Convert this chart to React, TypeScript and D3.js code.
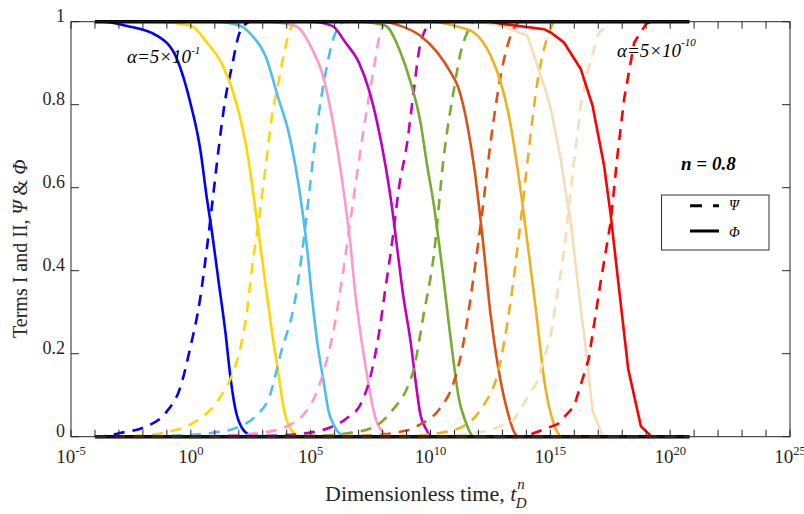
import React from "react";
import * as d3 from "d3";

// ---- data (x values are log10 of t_D^n, y values are Φ or Ψ) ----
const alphaValues = [5e-1, 5e-2, 5e-3, 5e-4, 5e-5, 5e-6, 5e-7, 5e-8, 5e-9, 5e-10];
const seriesColors = ["#0000ff", "#ffd700", "#4dbeee", "#ff99cc", "#bf00bf", "#77ac30", "#d95319", "#edb120", "#f5deb3", "#ff0000"];
const linearSeries = [false, false, false, false, false, false, false, false, true, true];

const phiBlue: [number, number][] = [[-4, 1], [-3.7, 1], [-2.7, 0.99], [-1.4, 0.966], [-0.58, 0.91], [0, 0.8], [0.39, 0.694], [0.67, 0.574], [0.88, 0.494], [1.16, 0.373], [1.44, 0.253], [1.64, 0.149], [1.85, 0.069], [2.13, 0.021], [2.48, 0.003], [2.7, 0], [20.8, 0]];
const psiBlue: [number, number][] = [[-4, 0], [-3.5, 0.002], [-2.95, 0.009], [-1.98, 0.022], [-1.0, 0.061], [-0.45, 0.117], [-0.03, 0.213], [0.39, 0.333], [0.67, 0.454], [0.95, 0.59], [1.16, 0.694], [1.44, 0.814], [1.72, 0.894], [1.99, 0.966], [2.27, 0.994], [2.5, 1], [20.8, 1]];

const phiGold: [number, number][] = [[-4, 1], [-1.5, 1], [0, 0.99], [0.67, 0.95], [1.37, 0.89], [1.92, 0.8], [2.34, 0.69], [2.55, 0.61], [2.83, 0.49], [3.11, 0.37], [3.39, 0.25], [3.66, 0.15], [3.87, 0.07], [4.15, 0.02], [4.5, 0.002], [4.7, 0], [20.8, 0]];
const psiGold: [number, number][] = [[-4, 0], [-2, 0.003], [-1.0, 0.011], [-0.03, 0.029], [0.88, 0.069], [1.37, 0.109], [1.78, 0.157], [2.13, 0.23], [2.34, 0.3], [2.55, 0.405], [2.83, 0.518], [3.11, 0.646], [3.39, 0.774], [3.66, 0.854], [3.87, 0.918], [4.15, 0.982], [4.4, 1], [20.8, 1]];

const phiSky: [number, number][] = [[-4, 1], [1.0, 1], [2.06, 0.99], [2.5, 0.97], [3.11, 0.918], [3.66, 0.814], [4.08, 0.734], [4.36, 0.654], [4.64, 0.55], [4.85, 0.454], [5.06, 0.333], [5.27, 0.229], [5.54, 0.133], [5.75, 0.061], [5.96, 0.029], [6.31, 0.003], [6.5, 0], [20.8, 0]];
const psiSky: [number, number][] = [[-4, 0], [-1, 0.002], [0.95, 0.01], [1.92, 0.022], [2.69, 0.049], [3.3, 0.1], [3.75, 0.2], [4.36, 0.333], [4.7, 0.47], [4.99, 0.614], [5.2, 0.72], [5.45, 0.82], [5.68, 0.894], [5.9, 0.95], [6.1, 0.982], [6.4, 1], [20.8, 1]];

const phiPink: [number, number][] = [[-4, 1], [3.0, 1], [4.36, 0.99], [5.06, 0.934], [5.48, 0.876], [5.89, 0.77], [6.17, 0.673], [6.45, 0.56], [6.66, 0.462], [6.87, 0.341], [7.15, 0.221], [7.42, 0.125], [7.7, 0.045], [7.98, 0.013], [8.26, 0], [20.8, 0]];
const psiPink: [number, number][] = [[-4, 0], [1, 0.002], [3.0, 0.01], [4.0, 0.025], [4.8, 0.06], [5.2, 0.1], [5.54, 0.157], [6.0, 0.27], [6.31, 0.381], [6.73, 0.55], [7.15, 0.718], [7.63, 0.886], [7.91, 0.974], [8.1, 0.995], [8.3, 1], [20.8, 1]];

const phiPurple: [number, number][] = [[-4, 1], [5, 1], [5.9, 0.99], [6.45, 0.95], [7.01, 0.902], [7.42, 0.838], [7.77, 0.758], [8.12, 0.654], [8.4, 0.55], [8.61, 0.454], [8.85, 0.345], [9.17, 0.229], [9.38, 0.133], [9.58, 0.053], [9.79, 0.021], [10.07, 0], [20.8, 0]];
const psiPurple: [number, number][] = [[-4, 0], [3, 0.002], [5.0, 0.01], [5.75, 0.021], [6.52, 0.045], [7.1, 0.08], [7.45, 0.135], [7.84, 0.245], [8.12, 0.357], [8.4, 0.469], [8.68, 0.598], [9.03, 0.71], [9.31, 0.838], [9.51, 0.926], [9.79, 0.982], [10.0, 1], [20.8, 1]];

const phiGreen: [number, number][] = [[-4, 1], [7, 1], [8.12, 0.99], [8.75, 0.926], [9.17, 0.854], [9.58, 0.758], [9.86, 0.654], [10.14, 0.558], [10.35, 0.469], [10.56, 0.373], [10.77, 0.269], [10.98, 0.173], [11.18, 0.093], [11.46, 0.037], [11.81, 0], [20.8, 0]];
const psiGreen: [number, number][] = [[-4, 0], [5, 0.002], [6.73, 0.01], [7.7, 0.025], [8.5, 0.07], [8.96, 0.109], [9.31, 0.165], [9.7, 0.29], [10.14, 0.438], [10.56, 0.678], [10.98, 0.838], [11.26, 0.926], [11.6, 0.982], [11.8, 1], [20.8, 1]];

const phiRust: [number, number][] = [[-4, 1], [8.0, 1], [8.75, 0.99], [9.58, 0.966], [10.28, 0.926], [10.84, 0.878], [11.18, 0.838], [11.54, 0.75], [11.81, 0.654], [12.16, 0.486], [12.51, 0.293], [12.93, 0.133], [13.21, 0.061], [13.55, 0.005], [13.7, 0], [20.8, 0]];
const psiRust: [number, number][] = [[-4, 0], [7, 0.002], [9.0, 0.015], [9.58, 0.03], [10.35, 0.065], [10.98, 0.133], [11.33, 0.213], [11.81, 0.39], [12.16, 0.542], [12.51, 0.71], [12.93, 0.87], [13.21, 0.942], [13.55, 0.99], [13.7, 1], [20.8, 1]];

const phiAmber: [number, number][] = [[-4, 1], [10, 1], [11.0, 0.99], [11.81, 0.974], [12.51, 0.918], [12.93, 0.854], [13.27, 0.774], [13.55, 0.678], [13.97, 0.502], [14.39, 0.309], [14.78, 0.123], [15.12, 0.035], [15.5, 0], [20.8, 0]];
const psiAmber: [number, number][] = [[-4, 0], [9, 0.002], [10.5, 0.01], [11.5, 0.03], [12.23, 0.077], [12.79, 0.149], [13.34, 0.325], [13.76, 0.518], [14.11, 0.694], [14.46, 0.854], [14.95, 0.974], [15.2, 1], [20.8, 1]];

const phiWheat: [number, number][] = [[-4, 1], [12, 1], [13.0, 0.99], [14.04, 0.966], [14.74, 0.846], [15.02, 0.79], [15.43, 0.67], [15.71, 0.566], [15.85, 0.518], [16.06, 0.413], [16.27, 0.309], [16.48, 0.213], [16.76, 0.063], [17.2, 0], [20.8, 0]];
const psiWheat: [number, number][] = [[-4, 0], [11, 0.002], [12.5, 0.015], [13.48, 0.041], [14.46, 0.133], [15.02, 0.245], [15.57, 0.445], [15.92, 0.63], [16.27, 0.798], [16.55, 0.878], [17.0, 0.97], [17.31, 0.99], [17.5, 1], [20.8, 1]];

const phiRed: [number, number][] = [[-4, 1], [12.5, 1], [12.93, 0.995], [14.74, 0.982], [15.02, 0.974], [15.57, 0.95], [16.27, 0.886], [16.76, 0.798], [17.24, 0.654], [17.52, 0.534], [17.8, 0.39], [18.25, 0.163], [18.78, 0.025], [19.23, 0], [20.8, 0]];
const psiRed: [number, number][] = [[-4, 0], [14.0, 0], [14.32, 0.009], [15.3, 0.03], [15.99, 0.073], [16.6, 0.187], [17.1, 0.373], [17.52, 0.518], [17.8, 0.678], [18.08, 0.814], [18.5, 0.95], [19.0, 0.995], [19.2, 1], [20.8, 1]];

const phiSeries = [phiBlue, phiGold, phiSky, phiPink, phiPurple, phiGreen, phiRust, phiAmber, phiWheat, phiRed];
const psiSeries = [psiBlue, psiGold, psiSky, psiPink, psiPurple, psiGreen, psiRust, psiAmber, psiWheat, psiRed];

const tRangeLog = [-4, 20.8];
const xTickExponents = [-5, 0, 5, 10, 15, 20, 25];
const yTicks = [0, 0.2, 0.4, 0.6, 0.8, 1];
const yTickLabels = ["0", "0.2", "0.4", "0.6", "0.8", "1"];

const W = 804;
const H = 514;
const FONT = "'Liberation Serif', 'Times New Roman', serif";

export default function App() {
  const x = d3.scaleLog().domain([1e-5, 1e25]).range([71, 790]);
  const y = d3.scaleLinear().domain([0, 1]).range([436.7, 21.7]);
  const smooth = d3
    .line<[number, number]>()
    .x((d) => x(Math.pow(10, d[0])))
    .y((d) => y(d[1]))
    .curve(d3.curveMonotoneX);
  const straight = d3
    .line<[number, number]>()
    .x((d) => x(Math.pow(10, d[0])))
    .y((d) => y(d[1]));

  const decadeTicks = d3.range(-5, 26).map((e) => Math.pow(10, e));
  const axisColor = "#262626";
  const x0 = x.range()[0];
  const x1 = x.range()[1];
  const yTop = y(1);
  const yBot = y(0);
  const flat = (v: number): [number, number][] => [[tRangeLog[0], v], [tRangeLog[1], v]];

  return (
    <svg width={W} height={H} style={{ position: "absolute", left: 0, top: 0, background: "#fff" }} fontFamily={FONT}>
      <rect x={0} y={0} width={W} height={H} fill="#fff" />
      {/* curves */}
      {alphaValues.map((a, i) => {
        const gen = linearSeries[i] ? straight : smooth;
        return (
          <g key={a}>
            <path d={gen(psiSeries[i]) || ""} fill="none" stroke={seriesColors[i]} strokeWidth={2.6} strokeDasharray="11 8" />
            <path d={gen(phiSeries[i]) || ""} fill="none" stroke={seriesColors[i]} strokeWidth={2.6} />
          </g>
        );
      })}
      {/* black reference lines */}
      <path d={straight(flat(1)) || ""} fill="none" stroke="#000" strokeWidth={3.5} />
      <path d={straight(flat(0)) || ""} fill="none" stroke="#000" strokeWidth={3.5} />
      <path d={straight(flat(0)) || ""} fill="none" stroke="#6e2410" strokeWidth={3} strokeDasharray="11 8" strokeOpacity={0.8} />

      {/* frame */}
      <rect x={x0} y={yTop} width={x1 - x0} height={yBot - yTop} fill="none" stroke={axisColor} strokeWidth={1} />
      {decadeTicks.map((t) => (
        <g key={t}>
          <line x1={x(t)} x2={x(t)} y1={yBot} y2={yBot - 7} stroke={axisColor} strokeWidth={1} />
          <line x1={x(t)} x2={x(t)} y1={yTop} y2={yTop + 7} stroke={axisColor} strokeWidth={1} />
        </g>
      ))}
      {yTicks.map((v) => (
        <g key={v}>
          <line x1={x0} x2={x0 + 8} y1={y(v)} y2={y(v)} stroke={axisColor} strokeWidth={1} />
          <line x1={x1} x2={x1 - 8} y1={y(v)} y2={y(v)} stroke={axisColor} strokeWidth={1} />
        </g>
      ))}
      {/* y tick labels */}
      {yTicks.map((v, i) => (
        <text key={v} x={65} y={y(v)} textAnchor="end" fontSize={18} fill="#262626">
          {yTickLabels[i]}
        </text>
      ))}
      {/* x tick labels */}
      {xTickExponents.map((e) => (
        <text key={e} x={x(Math.pow(10, e))} y={463} textAnchor="middle" fontSize={19} fill="#262626">
          10
          <tspan dy={-8} fontSize={12.5}>
            {e < 0 ? "-" + Math.abs(e) : String(e)}
          </tspan>
        </text>
      ))}
      {/* axis titles */}
      <text x={325} y={501} textAnchor="start" fontSize={22} fill="#262626">
        Dimensionless time,{" "}
        <tspan fontStyle="italic">t</tspan>
        <tspan fontStyle="italic" fontSize={15} dy={-12} dx={1}>n</tspan>
        <tspan fontStyle="italic" fontSize={15} dy={19} dx={-9}>D</tspan>
      </text>
      <text transform={`translate(27, 338) rotate(-90)`} textAnchor="start" fontSize={20} fill="#262626">
        Terms I and II, <tspan fontStyle="italic">Ψ</tspan> &amp; <tspan fontStyle="italic">Φ</tspan>
      </text>

      {/* annotations */}
      <text x={127} y={63} fontSize={19} fontStyle="italic" fill="#000">
        α=5×10<tspan dy={-9} fontSize={11}>-1</tspan>
      </text>
      <text x={617} y={57} fontSize={19} fontStyle="italic" fill="#000">
        α=5×10<tspan dy={-11} fontSize={11}>-10</tspan>
      </text>
      <text x={681} y={170} fontSize={19} fontStyle="italic" fontWeight="bold" fill="#000">
        n = 0.8
      </text>

      {/* legend */}
      <rect x={661.5} y={195} width={107.5} height={55} fill="#fff" stroke="#333" strokeWidth={1} />
      <line x1={690} x2={719} y1={205.7} y2={205.7} stroke="#000" strokeWidth={3} strokeDasharray="12 11" />
      <line x1={690} x2={719} y1={231} y2={231} stroke="#000" strokeWidth={3} />
      <text x={729} y={210} fontSize={14} fontStyle="italic" fill="#000">Ψ</text>
      <text x={729} y={237} fontSize={14} fontStyle="italic" fill="#000">Φ</text>
    </svg>
  );
}
